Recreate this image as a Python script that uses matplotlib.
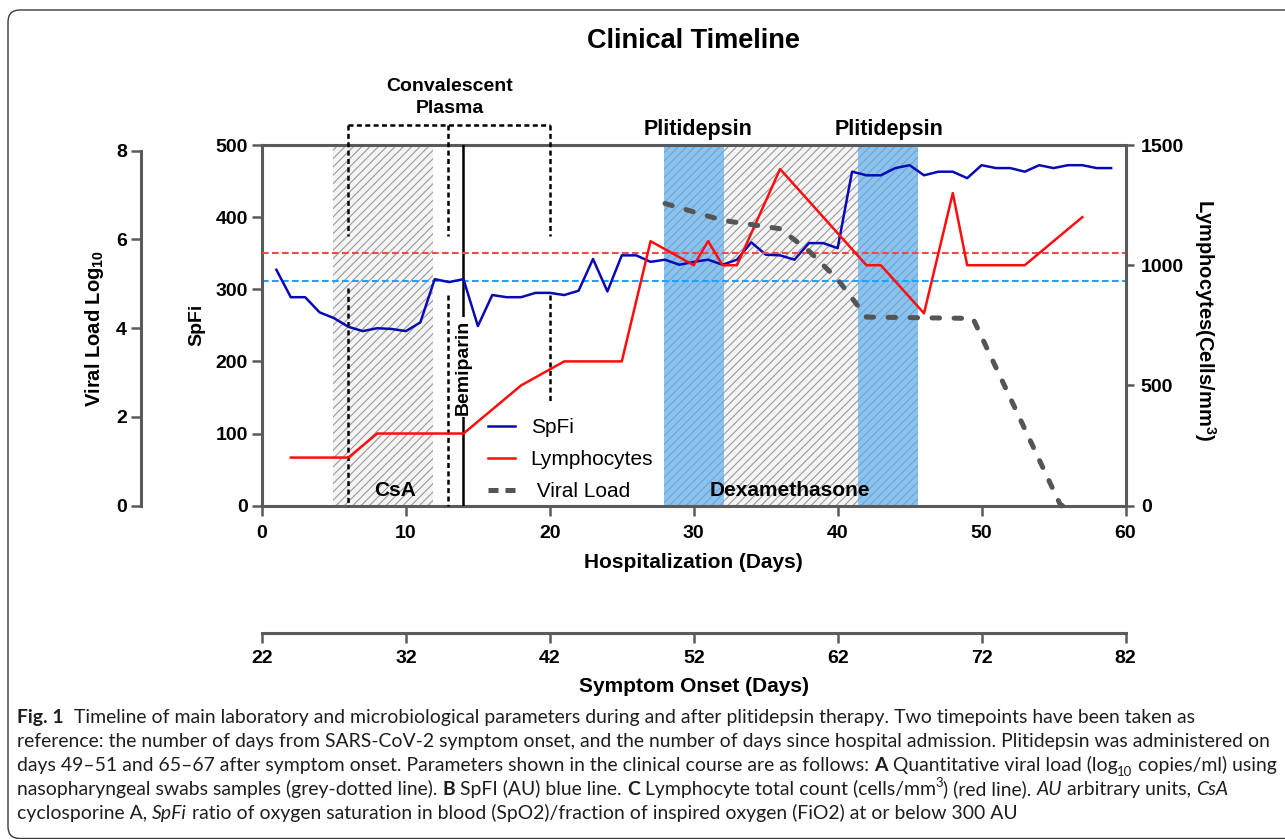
import matplotlib
matplotlib.use('Agg')
import matplotlib.pyplot as plt
from matplotlib.lines import Line2D
from matplotlib.patches import FancyBboxPatch
from matplotlib.transforms import IdentityTransform
from matplotlib.font_manager import FontProperties

# ---------------- data ----------------
spfi_days = list(range(1, 60))
spfi_values = [327, 289, 289, 268, 260, 248, 242, 246, 245, 242,
               254, 314, 310, 314, 249, 292, 289, 289, 295, 295,
               292, 298, 342, 297, 347, 347, 338, 341, 334, 338,
               341, 334, 341, 365, 348, 347, 341, 364, 364, 357,
               463, 458, 458, 468, 472, 458, 463, 463, 454, 472,
               468, 468, 463, 472, 468, 472, 472, 468, 468]
lymph_days = [2, 6, 8, 14, 18, 21, 25, 27, 30, 31, 32, 33, 36, 42, 43, 46, 48, 49, 53, 57]
lymph_values = [200, 200, 300, 300, 500, 600, 600, 1100, 1000, 1100, 1000, 1000,
                1400, 1000, 1000, 800, 1300, 1000, 1000, 1200]
viral_days = [28, 32, 36, 38, 40, 42, 49.4, 55.5, 56.5]
viral_values = [6.81, 6.43, 6.24, 5.74, 5.1, 4.25, 4.22, 0, 0]

spfi_threshold = 312
lymph_threshold = 1050

csa_span = (4.9, 11.9)
dexa_span = (32.1, 41.4)
plitidepsin_spans = [(27.9, 32.1), (41.4, 45.6)]
plasma_days = [6, 12.9, 20]
bemiparin_day = 14

hosp_ticks = [0, 10, 20, 30, 40, 50, 60]
onset_ticks = [22, 32, 42, 52, 62, 72, 82]
spfi_ticks = [0, 100, 200, 300, 400, 500]
lymph_ticks = [0, 500, 1000, 1500]
viral_ticks = [0, 2, 4, 6, 8]

# ---------------- style ----------------
plt.rcParams['font.family'] = ['Liberation Sans', 'DejaVu Sans']
plt.rcParams['font.weight'] = 'bold'
plt.rcParams['axes.labelweight'] = 'bold'
plt.rcParams['mathtext.default'] = 'regular'
plt.rcParams['hatch.linewidth'] = 0.8

W, H = 1285, 839
SP = '#5a5a5a'
SPW = 2.2

fig = plt.figure(figsize=(W / 100, H / 100), dpi=100)
fig.patch.set_facecolor('white')

def fx(px):
    return px / W

def fy(py):
    return 1 - py / H

ax = fig.add_axes([fx(262), fy(505.67), 863.5 / W, 360.67 / H])
ax_l = ax.twinx()
ax_v = ax.twinx()
for a in (ax_l, ax_v):
    a.patch.set_visible(False)

ax.set_xlim(0, 60)
ax.set_ylim(0, 500)
ax_l.set_ylim(0, 1500)
ax_v.set_ylim(0, 8 * 360.67 / 355.0)

# shading
ax.axvspan(*csa_span, facecolor='#f4f4f4', edgecolor='#9a9a9a', hatch='////', linewidth=0, zorder=0)
ax.axvspan(*dexa_span, facecolor='#f4f4f4', edgecolor='#9a9a9a', hatch='////', linewidth=0, zorder=0)
for s in plitidepsin_spans:
    ax.axvspan(*s, facecolor='#8ac3ef', edgecolor='#72a3cc', hatch='////', linewidth=0, zorder=0)

# threshold lines
ax.axhline(spfi_threshold, color='#1aa3ff', lw=1.5, dashes=(3.2, 1.6), zorder=1)
ax_l.axhline(lymph_threshold, color='#ff4646', lw=1.5, dashes=(3.2, 1.6), zorder=1)

# plasma bracket / markers
xt = ax.get_xaxis_transform()
bk = dict(color='black', lw=1.8, dashes=(2.0, 1.35), clip_on=False, transform=xt, zorder=3)
ax.plot([plasma_days[0], plasma_days[-1]], [1.0545, 1.0545], **bk)
for d in plasma_days:
    ax.plot([d, d], [1.0545, 0.7468], **bk)
ax.plot([plasma_days[0]] * 2, [0.603, 0.0], **bk)
ax.plot([plasma_days[1]] * 2, [0.585, 0.0], **bk)
ax.plot([plasma_days[2]] * 2, [0.585, 0.288], **bk)
ax.plot([bemiparin_day] * 2, [1.0, 0.0], color='black', lw=1.8, transform=xt, zorder=3)
ax.text(bemiparin_day, 0.3845, 'Bemiparin', rotation=90, ha='center', va='center',
        fontsize=14, transform=xt, zorder=4.5,
        bbox=dict(facecolor='white', edgecolor='none', pad=2.0))

# data lines
l_spfi, = ax.plot(spfi_days, spfi_values, color='#0a0ab4', lw=1.8, zorder=5, label='SpFi')
l_lym, = ax_l.plot(lymph_days, lymph_values, color='#ff0d0d', lw=1.8, zorder=5, label='Lymphocytes')
ax_v.plot(viral_days, viral_values, color='#555555', lw=3.6, dashes=(1.5, 2.9),
          dash_capstyle='round', clip_on=False, zorder=6)
v_proxy = Line2D([], [], color='#555555', lw=3.6, dashes=(2.0, 1.4), dash_capstyle='butt')

# region labels
ax.text(9.24, 0.0407, 'CsA', ha='center', va='center', fontsize=15, transform=xt, zorder=7)
ax.text(36.7, 0.0407, 'Dexamethasone', ha='center', va='center', fontsize=15, transform=xt, zorder=7)
ax.text(30.3, 1.0420, 'Plitidepsin', ha='center', va='center', fontsize=15.5, transform=xt, clip_on=False)
ax.text(43.6, 1.0420, 'Plitidepsin', ha='center', va='center', fontsize=15.5, transform=xt, clip_on=False)
ax.text(13.05, 1.1635, 'Convalescent', ha='center', va='center', fontsize=14, transform=xt, clip_on=False)
ax.text(13.05, 1.1001, 'Plasma', ha='center', va='center', fontsize=14, transform=xt, clip_on=False)

# spines & ticks
for a in (ax, ax_l, ax_v):
    for sp in a.spines.values():
        sp.set_visible(False)
        sp.set_color(SP)
        sp.set_linewidth(SPW)
ax.spines['left'].set_visible(True)
ax.spines['bottom'].set_visible(True)
ax.spines['top'].set_visible(True)
ax_l.spines['right'].set_visible(True)
ax_v.spines['left'].set_visible(True)
ax_v.spines['left'].set_position(('outward', 86.8))
ax_v.spines['left'].set_bounds(0, 8)

ax.set_xticks(hosp_ticks)
ax.set_yticks(spfi_ticks)
ax.xaxis.tick_bottom()
ax.yaxis.tick_left()
ax_l.set_yticks(lymph_ticks)
ax_v.yaxis.tick_left()
ax_v.yaxis.set_label_position('left')
ax_v.set_yticks(viral_ticks)

ax.tick_params(axis='x', direction='out', length=7, width=1.8, color=SP, labelsize=14, pad=7)
ax.tick_params(axis='y', direction='out', length=7, width=1.8, color=SP, labelsize=14, pad=3)
ax_l.tick_params(axis='y', direction='out', length=6, width=1.8, color=SP, labelsize=14, pad=5)
ax_v.tick_params(axis='y', direction='out', length=7, width=1.8, color=SP, labelsize=14, pad=3.5)

# axis labels
ax.set_xlabel('Hospitalization (Days)', fontsize=15, va='center')
ax.xaxis.set_label_coords(0.5, (505.67 - 563) / 360.67)
ax.set_ylabel('SpFi', fontsize=14, rotation=90, ha='center', va='center', rotation_mode='default')
ax.yaxis.set_label_coords((197 - 262) / 863.5, 0.5)
ax_l.set_ylabel('Lymphocytes(Cells/mm$^3$)', fontsize=14.5, rotation=270, ha='center', va='center',
                rotation_mode='default')
ax_l.yaxis.set_label_coords((1205 - 262) / 863.5, 0.515)
ax_v.set_ylabel('Viral Load Log$_{10}$', fontsize=14.5, rotation=90, ha='center', va='center',
                rotation_mode='default')
ax_v.yaxis.set_label_coords((95 - 262) / 863.5, 0.49)

# legend
leg = ax_v.legend(handles=[l_spfi, l_lym, v_proxy], labels=['SpFi', 'Lymphocytes', ' Viral Load'],
                  loc='upper left', bbox_to_anchor=(fx(488), fy(418)), bbox_transform=fig.transFigure,
                  frameon=False, prop=FontProperties(family='Liberation Sans', weight='normal', size=15),
                  handlelength=1.3, handletextpad=0.75, labelspacing=0.62, borderpad=0, borderaxespad=0)
leg.set_zorder(8)

# symptom onset axis
ax2 = fig.add_axes([fx(262), fy(633), 863.5 / W, 0.0001])
ax2.patch.set_visible(False)
for k, sp in ax2.spines.items():
    sp.set_visible(k == 'bottom')
    sp.set_color(SP)
    sp.set_linewidth(SPW)
ax2.set_xlim(onset_ticks[0], onset_ticks[-1])
ax2.set_xticks(onset_ticks)
ax2.set_yticks([])
ax2.tick_params(axis='x', direction='out', length=7, width=1.8, color=SP, labelsize=14, pad=5)
ax2.set_xlabel('Symptom Onset (Days)', fontsize=15, va='center')
ax2.xaxis.set_label_coords(fx(693.75), fy(686), transform=fig.transFigure)

# title
fig.text(fx(693), fy(41), 'Clinical Timeline', ha='center', va='center', fontsize=19.5)

# outer rounded frame
frame = FancyBboxPatch((8, 0.5), 1300, 828.5, boxstyle='round,pad=0,rounding_size=12',
                       transform=IdentityTransform(), facecolor='none', edgecolor='#3a3a3a', lw=1.0)
fig.add_artist(frame)

# caption
caption_lines = [
    [("Fig. 1", 'b'), ("  Timeline of main laboratory and microbiological parameters during and after plitidepsin therapy. Two timepoints have been taken as", 'r')],
    [("reference: the number of days from SARS-CoV-2 symptom onset, and the number of days since hospital admission. Plitidepsin was administered on", 'r')],
    [("days 49\u201351 and 65\u201367 after symptom onset. Parameters shown in the clinical course are as follows: ", 'r'), ("A", 'b'),
     (" Quantitative viral load (log", 'r'), ("10", 'sub'), (" copies/ml) using", 'r')],
    [("nasopharyngeal swabs samples (grey-dotted line). ", 'r'), ("B", 'b'), (" SpFI (AU) blue line. ", 'r'), ("C", 'b'),
     (" Lymphocyte total count (cells/mm", 'r'), ("3", 'sup'), (") (red line). ", 'r'), ("AU", 'i'),
     (" arbitrary units, ", 'r'), ("CsA", 'i')],
    [("cyclosporine A, ", 'r'), ("SpFi", 'i'),
     (" ratio of oxygen saturation in blood (SpO2)/fraction of inspired oxygen (FiO2) at or below 300 AU", 'r')],
]
cap_family = ['Lato', 'DejaVu Sans']

def cap_prop(style, size):
    if style == 'b':
        return FontProperties(family=cap_family, weight='bold', size=size)
    if style == 'i':
        return FontProperties(family=cap_family, style='italic', weight='normal', size=size)
    if style in ('sub', 'sup'):
        return FontProperties(family=cap_family, weight='normal', size=size * 0.68)
    return FontProperties(family=cap_family, weight='normal', size=size)

renderer = fig.canvas.get_renderer()

def pw(s, prop):
    w1 = renderer.get_text_width_height_descent('|' + s + '|', prop, ismath=False)[0]
    w0 = renderer.get_text_width_height_descent('||', prop, ismath=False)[0]
    return w1 - w0

def line_width(pieces, size):
    return sum(pw(s, cap_prop(st, size)) for s, st in pieces)

base = 10.0
cap_size = base * (1270 - 17) / line_width(caption_lines[1], base)
baselines = [723, 747, 771, 795, 819]
for pieces, yb in zip(caption_lines, baselines):
    x = 17.0
    for s, st in pieces:
        prop = cap_prop(st, cap_size)
        dy = 0
        if st == 'sub':
            dy = 0.28 * cap_size * 100 / 72
        elif st == 'sup':
            dy = -0.42 * cap_size * 100 / 72
        fig.text(fx(x), fy(yb + dy), s, fontproperties=prop, ha='left', va='baseline', color='#1e1e1e')
        x += pw(s, prop)

fig.savefig('out.png', dpi=100)
